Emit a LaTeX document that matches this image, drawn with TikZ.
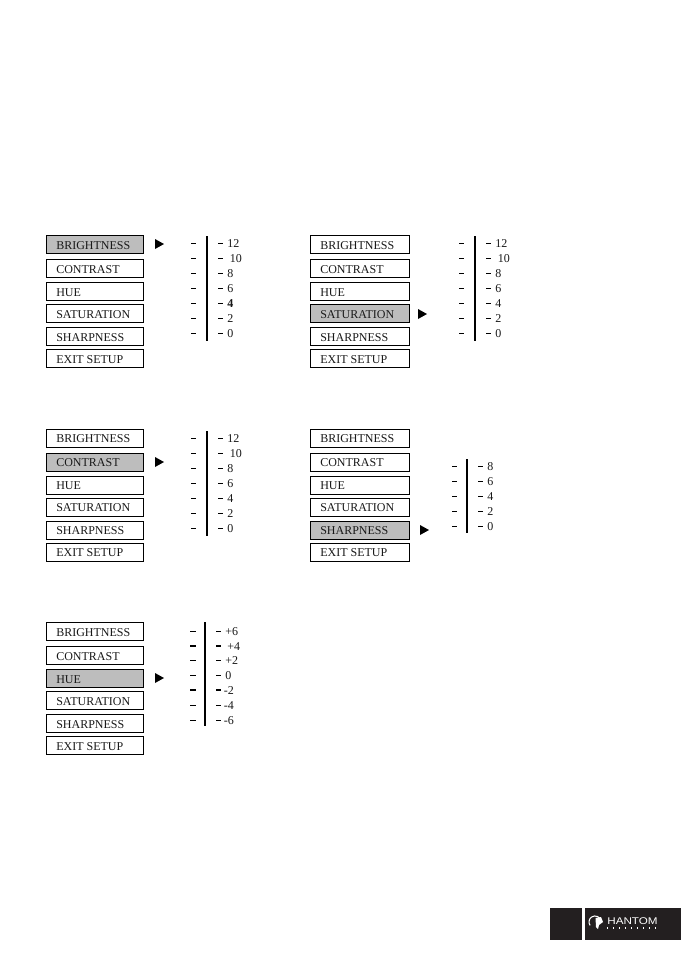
\documentclass[tikz,border=0pt]{standalone}
\usepackage{fontspec}
\setmainfont{Liberation Serif}
\newfontfamily\logofont{Liberation Sans}
\definecolor{sel}{gray}{0.74}
\definecolor{logoblack}{HTML}{231F20}
\tikzset{
 x=0.75pt,y=-0.75pt,
 menutext/.style={anchor=west,inner sep=0pt,font=\fontsize{9}{10}\selectfont,text=black!90},
 tickm/.style={line width=0.6pt},
 thicktick/.style={line width=1.3pt},
 scalebar/.style={line width=1.6pt},
 pointer/.style={fill=black,draw=none},
}
\newcommand{\menupanel}[4]{%
 \foreach \nm/\ty/\lbl/\idx in {a/0/BRIGHTNESS/1,b/24/CONTRAST/2,c/47/HUE/3,d/69/SATURATION/4,e/92/SHARPNESS/5,f/114/EXIT SETUP/6}{%
  \ifnum\idx=#4\relax
   \path[draw=black,line width=0.75pt,fill=sel] (#1,#3+\ty) rectangle (#1+#2,#3+\ty+18);
  \else
   \path[draw=black,line width=0.75pt] (#1,#3+\ty) rectangle (#1+#2,#3+\ty+18);
  \fi
  \node[menutext] (m\nm#1#3) at (#1+10,#3+\ty+10) {\lbl};
 }%
}
\newcommand{\pointerat}[2]{\fill[pointer] (#1,#2-5) -- (#1+9,#2) -- (#1,#2+5) -- cycle;}
\begin{document}
\begin{tikzpicture}
\useasboundingbox (0,0) rectangle (681,964);
\fill[white] (0,0) rectangle (681,964);
\menupanel{46}{97.5}{235.5}{1}
\pointerat{155}{244}
\menupanel{310}{99}{235.5}{4}
\pointerat{418}{314}
\menupanel{46}{97.5}{429}{2}
\pointerat{155}{462}
\menupanel{310}{99}{429}{5}
\pointerat{420}{530}
\menupanel{46}{97.5}{622.5}{3}
\pointerat{155}{678}
\foreach \ya/\lbl/\xo in {243/12/0,258/10/2.5,273/8/0,288/6/0,303/4/0,318/2/0,333/0/0}{
 \draw[tickm] (191,\ya) -- (196,\ya);
 \draw[tickm] (218,\ya) -- (223,\ya);
 \node[menutext] (sa\lbl) at (227+\xo,\ya+1) {\ifnum\lbl=4 \textbf{\lbl}\else\lbl\fi};
}
\draw[scalebar] (207,236) -- (207,341);
\foreach \ya/\lbl/\xo in {243/12/0,258/10/2.5,273/8/0,288/6/0,303/4/0,318/2/0,333/0/0}{
 \draw[tickm] (459,\ya) -- (464,\ya);
 \draw[tickm] (486,\ya) -- (491,\ya);
 \node[menutext] (sb\lbl) at (495+\xo,\ya+1) {\lbl};
}
\draw[scalebar] (475,236) -- (475,341);
\foreach \ya/\lbl/\xo in {438/12/0,453/10/2.5,468/8/0,483/6/0,498/4/0,513/2/0,528/0/0}{
 \draw[tickm] (191,\ya) -- (196,\ya);
 \draw[tickm] (218,\ya) -- (223,\ya);
 \node[menutext] (sc\lbl) at (227+\xo,\ya+1) {\lbl};
}
\draw[scalebar] (207,431) -- (207,536);
\foreach \ya/\lbl in {466/8,481/6,496/4,511/2,526/0}{
 \draw[tickm] (452,\ya) -- (457,\ya);
 \draw[tickm] (478,\ya) -- (483,\ya);
 \node[menutext] (sd\lbl) at (487,\ya+1) {\lbl};
}
\draw[scalebar] (467,459) -- (467,533);
\foreach \ya/\lbl/\xo/\st/\nm in {631/+6/0/tickm/p,646/+4/2/thicktick/q,660/+2/0/tickm/r,675/0/0/tickm/s,690/-2/-1.5/thicktick/t,705/-4/-1.5/tickm/u,720/-6/-1.5/tickm/v}{
 \draw[\st] (190,\ya) -- (196,\ya);
 \draw[\st] (216,\ya) -- (221,\ya);
 \node[menutext] (se\nm) at (225+\xo,\ya+1) {\lbl};
}
\draw[scalebar] (205,622) -- (205,726);
% logo
\fill[logoblack] (550,908) rectangle (582,940);
\fill[logoblack] (585,908) rectangle (681,940);
\draw[white,line width=0.8pt] (590.1,925.4) arc (145:335:6);
\fill[white] (595.5,918) -- (601,917) -- (603,922) -- (599,925) -- (598,929) -- (596,927) -- cycle;
\node[anchor=west,inner sep=0pt,text=white,font=\logofont\fontsize{7.3}{9}\selectfont,xscale=1.2,transform shape] (logotext) at (607,921.5) {HANTOM};
\draw[white,line width=0.8pt,dash pattern=on 0.9pt off 3.6pt] (607,928) -- (657,928);
\end{tikzpicture}
\end{document}
